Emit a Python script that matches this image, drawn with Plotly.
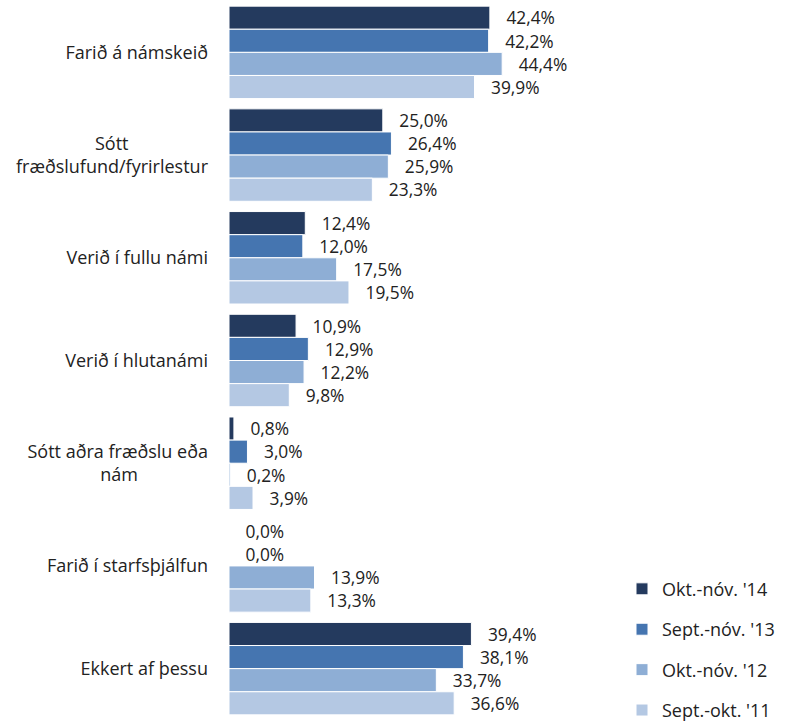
import plotly.graph_objects as go

NB = "\u00a0"
categories = [
    "Farið á námskeið",
    "Sótt" + NB * 17 + "<br>fræðslufund/fyrirlestur",
    "Verið í fullu námi",
    "Verið í hlutanámi",
    "Sótt aðra fræðslu eða<br>nám" + NB * 15,
    "Farið í starfsþjálfun",
    "Ekkert af þessu",
]
series_names = ["Okt.-nóv. '14", "Sept.-nóv. '13", "Okt.-nóv. '12", "Sept.-okt. '11"]
okt_nov_14 = [42.4, 25.0, 12.4, 10.9, 0.8, 0.0, 39.4]
sept_nov_13 = [42.2, 26.4, 12.0, 12.9, 3.0, 0.0, 38.1]
okt_nov_12 = [44.4, 25.9, 17.5, 12.2, 0.2, 13.9, 33.7]
sept_okt_11 = [39.9, 23.3, 19.5, 9.8, 3.9, 13.3, 36.6]
colors = ["#243A5E", "#4575B0", "#8EAED5", "#B4C8E3"]

FONT = "Open Sans, Calibri, sans-serif"
FS = 18

fig = go.Figure()
for name, vals, col in zip(series_names, [okt_nov_14, sept_nov_13, okt_nov_12, sept_okt_11], colors):
    fig.add_trace(go.Bar(
        y=categories, x=vals, name=name, orientation="h",
        marker=dict(color=col, line=dict(color="white", width=1)),
        text=[NB * 3 + f"{v:.1f}%".replace(".", ",") for v in vals],
        textposition="outside", cliponaxis=False,
        textfont=dict(family=FONT, size=FS, color="#222"),
        legendgroup=name,
    ))

fig.update_layout(
    width=787, height=724,
    margin=dict(l=229, r=187, t=1, b=4, autoexpand=False),
    barmode="group", bargap=0.1, bargroupgap=0,
    plot_bgcolor="white", paper_bgcolor="white",
    font=dict(family=FONT, size=FS, color="#222"),
    xaxis=dict(range=[0, 60.3], visible=False, automargin=False),
    yaxis=dict(autorange="reversed", showline=False, showgrid=False, ticks="",
               automargin=False, ticklabelstandoff=20,
               tickfont=dict(family=FONT, size=FS, color="#222")),
    legend=dict(x=(622 - 229) / 371, xanchor="left", y=-0.012, yanchor="bottom",
                font=dict(family=FONT, size=FS, color="#222"),
                tracegroupgap=14, bgcolor="rgba(0,0,0,0)"),
)
fig.write_html("out.html", config={"displayModeBar": False},
               post_script="document.body.style.margin='0';")
